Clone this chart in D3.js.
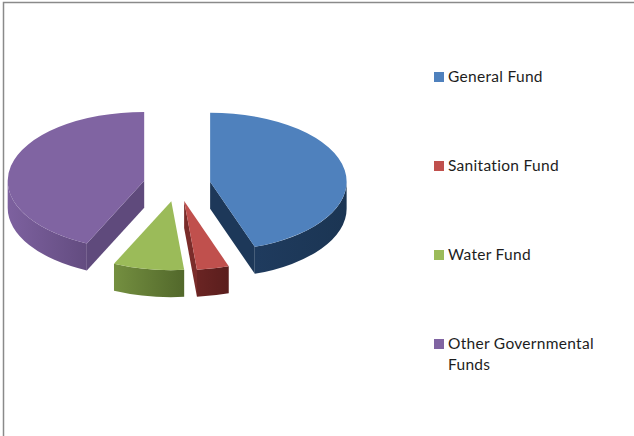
<!DOCTYPE html>
<html>
<head>
<meta charset="utf-8">
<script src="https://cdn.jsdelivr.net/npm/d3@7"></script>
<style>
  html, body { margin: 0; padding: 0; background: #fff; }
  svg { display: block; }
  text { font-family: "Lato", "Open Sans", sans-serif; font-size: 15.5px; letter-spacing: 0.3px; fill: #1d1d1d; }
</style>
</head>
<body>
<svg id="chart" width="634" height="436"></svg>
<script>
// Fund shares, in percent
const categories = ["General Fund", "Sanitation Fund", "Water Fund", "Other Governmental Funds"];
const values = [44.7, 3.8, 8.4, 43.1];
const legendLines = [["General Fund"], ["Sanitation Fund"], ["Water Fund"], ["Other Governmental", "Funds"]];

const topColors   = ["#4f81bd", "#c0504d", "#9bbb59", "#8064a2"];
const wallLight   = ["#1f3b5e", "#6a2423", "#748f40", "#7d619f"];
const wallDark    = ["#1b3553", "#5a1e1d", "#52682b", "#634c80"];
const innerColors = ["#1d3859", "#7a2c2a", "#5e7732", "#5f4a7c"];

const svg = d3.select("#chart");
const defs = svg.append("defs");

// Pie geometry: tilted disc with exploded slices
const cx = 177, cy = 184.5, rx = 136.5, tilt = 0.505, depth = 27, explode = 33.6;

const slices = d3.pie().sort(null).value(d => d)(values);

const color = d3.scaleOrdinal().domain(categories).range(topColors);

// Screen position of an angle on the disc, measured clockwise from 12 o'clock
const onRim = (a, r) => [r * Math.sin(a), -r * tilt * Math.cos(a)];

const chart = svg.append("g").attr("transform", `translate(${cx},${cy})`);

slices.forEach((s, i) => {
  const mid = (s.startAngle + s.endAngle) / 2;
  const [ox, oy] = onRim(mid, explode);
  const g = chart.append("g").attr("transform", `translate(${ox},${oy})`);

  // Horizontal shading across the outer wall
  const gradId = `wall-${i}`;
  const grad = defs.append("linearGradient").attr("id", gradId);
  grad.append("stop").attr("offset", "0%").attr("stop-color", wallLight[i]);
  grad.append("stop").attr("offset", "100%").attr("stop-color", wallDark[i]);

  // Radial walls that face the viewer
  const wall = a => {
    const [x, y] = onRim(a, rx);
    const p = d3.path();
    p.moveTo(0, 0); p.lineTo(x, y); p.lineTo(x, y + depth); p.lineTo(0, depth); p.closePath();
    g.append("path").attr("d", p.toString()).attr("fill", innerColors[i]);
  };
  if (Math.sin(s.startAngle) < -1e-6) wall(s.startAngle);
  if (Math.sin(s.endAngle) > 1e-6) wall(s.endAngle);

  // Outer wall: only the part of the rim on the near side of the disc
  const a0 = Math.max(s.startAngle, Math.PI / 2);
  const a1 = Math.min(s.endAngle, Math.PI * 1.5);
  if (a1 > a0) {
    const [x0, y0] = onRim(a0, rx);
    const [x1, y1] = onRim(a1, rx);
    const ry = rx * tilt;
    const p = `M${x0},${y0}A${rx},${ry} 0 0 1 ${x1},${y1}L${x1},${y1 + depth}A${rx},${ry} 0 0 0 ${x0},${y0 + depth}Z`;
    g.append("path").attr("d", p).attr("fill", `url(#${gradId})`);
  }

  // Top face: a flat d3 arc squashed onto the tilted disc
  const arc = d3.arc().innerRadius(0).outerRadius(rx);
  g.append("path")
    .attr("d", arc(s))
    .attr("transform", `scale(1,${tilt})`)
    .attr("fill", color(categories[i]));
});

// Legend
const legendY = d3.scalePoint().domain(categories).range([77, 344]);
const legend = svg.append("g");
categories.forEach((c, i) => {
  const y = legendY(c);
  legend.append("rect")
    .attr("x", 434).attr("y", y - 5)
    .attr("width", 10).attr("height", 10)
    .attr("fill", color(c));
  legendLines[i].forEach((line, j) => {
    legend.append("text")
      .attr("x", 448).attr("y", y + 5 + j * 21)
      .text(line);
  });
});

// Frame along the top and left edges
svg.append("path")
  .attr("d", "M3.5,436V2.5H634")
  .attr("fill", "none")
  .attr("stroke", "#8a8a8a")
  .attr("stroke-width", 1.5);
</script>
</body>
</html>
